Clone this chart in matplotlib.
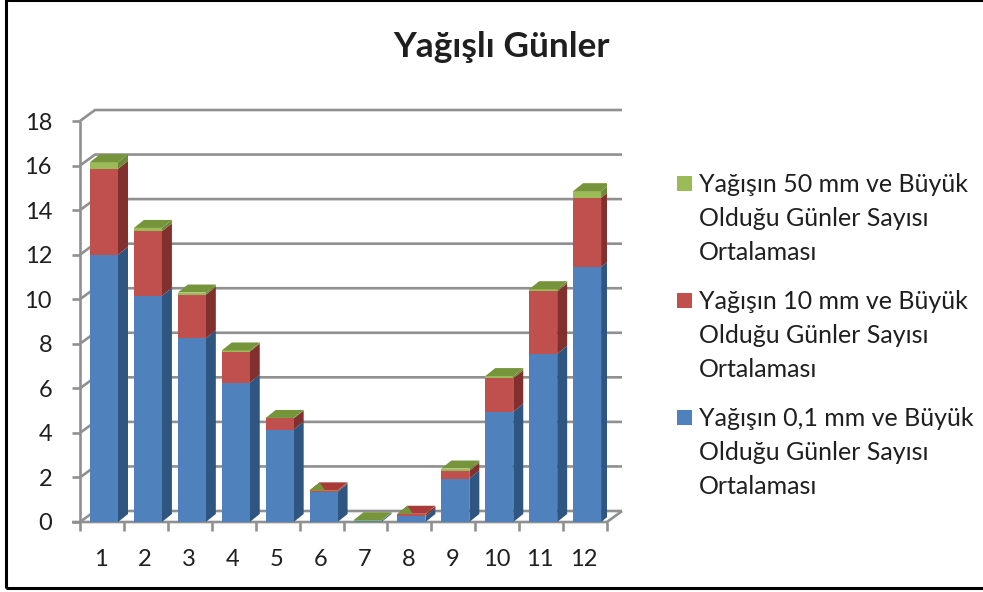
import numpy as np
import matplotlib
matplotlib.use("Agg")
import matplotlib.pyplot as plt
from matplotlib.patches import Polygon, Rectangle

plt.rcParams['font.family'] = ['Lato', 'DejaVu Sans']

months = [1, 2, 3, 4, 5, 6, 7, 8, 9, 10, 11, 12]
rain_01 = [12.0, 10.15, 8.25, 6.25, 4.15, 1.35, 0.05, 0.25, 1.95, 4.95, 7.55, 11.45]
rain_10 = [3.85, 2.9, 1.95, 1.4, 0.5, 0.05, 0.01, 0.1, 0.35, 1.5, 2.8, 3.1]
rain_50 = [0.3, 0.15, 0.1, 0.05, 0.02, 0.02, 0.02, 0.02, 0.1, 0.1, 0.1, 0.3]
y_ticks = [0, 2, 4, 6, 8, 10, 12, 14, 16, 18]

labels = ["Yağışın 0,1 mm ve Büyük\nOlduğu Günler Sayısı\nOrtalaması",
          "Yağışın 10 mm ve Büyük\nOlduğu Günler Sayısı\nOrtalaması",
          "Yağışın 50 mm ve Büyük\nOlduğu Günler Sayısı\nOrtalaması"]
front = ["#4f81bd", "#c0504d", "#9bbb59"]
side = ["#2f5680", "#82302e", "#6d8a38"]
top = ["#3f6da3", "#a83a37", "#76953b"]
grid = "#909090"
ink = "#1f1f1f"

W, H = 983, 592
fig = plt.figure(figsize=(W / 100, H / 100), dpi=100)
fig.patch.set_facecolor("white")

# plot box: front axis corner 80,522 -> 18 at y=121
x0, x1, y0, y1 = 80, 607, 522, 121
ax = fig.add_axes([x0 / W, 1 - y0 / H, (x1 - x0) / W, (y0 - y1) / H])
ax.set_xlim(0.5, 12.5)
ax.set_ylim(0, 18)
ax.axis("off")

# depth of the wall and of one bar, in data units
sx = 12 / 527
sy = 18 / 401
wall_dx, wall_dy = 15 * sx, 11 * sy
bar_dx, bar_dy = 10 * sx, 8 * sy
bar_w = 28 * sx
lw = 1.9


def line(xs, ys, **kw):
    ax.plot(xs, ys, color=grid, lw=lw, clip_on=False, solid_capstyle="butt", **kw)


# walls and floor
for v in y_ticks:
    line([0.5, 0.5 + wall_dx, 12.5 + wall_dx], [v, v + wall_dy, v + wall_dy], zorder=1)
    line([0.5 - 8 * sx, 0.5], [v, v], zorder=1)
line([0.5, 0.5], [0, 18], zorder=1)
line([0.5 - 8 * sx, 12.5, 12.5 + wall_dx], [0, 0, wall_dy], zorder=1)
for i in range(13):
    line([0.5 + i, 0.5 + i], [0, -9 * sy], zorder=1)

# bars, drawn left to right so the side faces stack properly
for i, m in enumerate(months):
    left = m - 0.5 + 10 * sx
    right = left + bar_w
    base = 0
    stack = [rain_01[i], rain_10[i], rain_50[i]]
    for k, h in enumerate(stack):
        t = base + h
        ax.add_patch(Polygon([(right, base), (right + bar_dx, base + bar_dy),
                              (right + bar_dx, t + bar_dy), (right, t)],
                             fc=side[k], ec="none", zorder=3 + i))
        ax.add_patch(Rectangle((left, base), bar_w, h, fc=front[k], ec="none", zorder=3 + i))
        base = t
    corners = [(left, base), (right, base), (right + bar_dx, base + bar_dy), (left + bar_dx, base + bar_dy)]
    if m in (6, 8):
        # the low bars show the red top poking through the green one
        ax.add_patch(Polygon(corners, fc=top[1], ec="none", zorder=3 + i))
        ax.add_patch(Polygon([corners[0], (left + bar_w * 0.55, base), corners[3]],
                             fc=top[2], ec="none", zorder=3 + i))
    else:
        ax.add_patch(Polygon(corners, fc=top[2], ec="none", zorder=3 + i))

# tick labels
for v in y_ticks:
    ax.text(0.5 - 28 * sx, v - 2 * sy, str(v), ha="right", va="center", fontsize=17, color=ink)
for m in months:
    ax.text(m - 0.02, -37 * sy, str(m), ha="center", va="center", fontsize=17, color=ink)

fig.text(502 / W, 1 - 47 / H, "Yağışlı Günler", ha="center", va="center",
         fontsize=25.4, fontweight="bold", color=ink)

# legend by hand, top entry is the last series
leg_y = [184, 301, 418]
for k, ly in zip([2, 1, 0], leg_y):
    fig.patches.append(Rectangle((677 / W, 1 - (ly + 7) / H), 15 / W, 15 / H,
                                 transform=fig.transFigure, fc=front[k], ec="none"))
    fig.text(699 / W, 1 - (ly - 11) / H, labels[k], ha="left", va="top", fontsize=18,
             color=ink, linespacing=1.59)

# outer frame
fig.patches.append(Rectangle((6 / W, 1 - 588 / H), 990 / W, 588 / H, transform=fig.transFigure,
                             fc="none", ec="black", lw=2.2))

fig.savefig("out.png", dpi=100)
